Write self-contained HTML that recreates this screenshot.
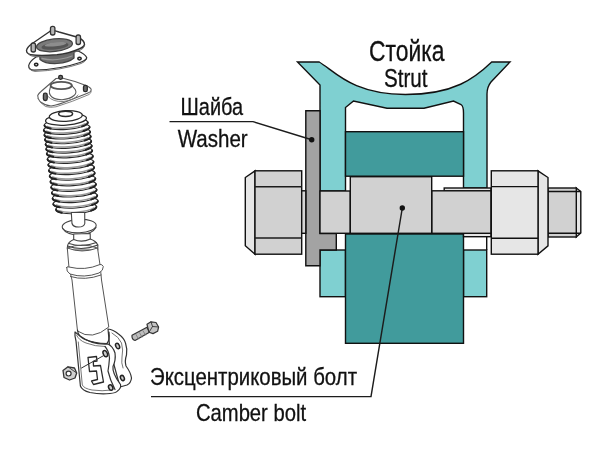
<!DOCTYPE html>
<html lang="ru">
<head>
<meta charset="utf-8">
<title>Стойка — Camber bolt</title>
<style>
html,body{margin:0;padding:0;background:#fff;}
body{width:600px;height:450px;overflow:hidden;font-family:"Liberation Sans",sans-serif;}
svg{display:block;will-change:transform;}
.o{stroke:#111;stroke-width:1.4;stroke-linejoin:miter;}
.lt{fill:#7fd0d1;}
.dt{fill:#419b9c;}
.g1{fill:#d1d1d1;}
.g2{fill:#e6e6e6;}
.g3{fill:#a3a3a3;}
.ld{stroke:#1c1c1c;stroke-width:1.45;fill:none;}
text{font-family:"Liberation Sans",sans-serif;fill:#111;stroke:#111;stroke-width:0.3px;}
</style>
</head>
<body>
<svg width="600" height="450" viewBox="0 0 600 450">
<rect width="600" height="450" fill="#fff"/>

<!-- SKETCH-START -->
<g id="sketch" fill="none" stroke="#333" stroke-width="1.25" stroke-linecap="round" stroke-linejoin="round">
<g id="topmount">
<path fill="#fff" d="M36 57 Q29.500 61.500 28.700 65.500 Q28.500 70 34 70.200 Q60 69.500 80 62.500 Q87 60 86.700 57.500 Q85 54 78 51 Z"/>
<path stroke="#666" stroke-width="0.900" d="M29.500 68 Q31 71.500 35 71.400 Q60 70.500 81 63.500 Q85 62 86.500 59.500"/>
<ellipse cx="36.200" cy="64.600" rx="1.700" ry="1.400" stroke="#222" stroke-width="1.500" fill="#ddd"/>
<ellipse cx="79.500" cy="58.600" rx="1.700" ry="1.400" stroke="#222" stroke-width="1.500" fill="#ddd"/>
<path fill="#6c6c6c" stroke="#444" d="M39.500 53 L40 59.500 Q45 64 57 63.500 Q69 62.500 74 58 L74 50 Z"/>
<path stroke="#999" stroke-width="1.300" d="M42 58.500 Q56 62 72 56"/>
<path fill="#fff" stroke-width="1.400" d="M52 30.500 Q55 30.500 59 32 L78.500 37.500 Q84.500 40.500 84.500 44.500 Q84 47 79 49 Q69 53.500 57 54.800 Q40 56 31 54.800 Q26.500 53.500 26.500 50.500 Q27 47 33 43 L49 32 Q50.500 30.500 52 30.500 Z"/>
<path stroke="#666" stroke-width="0.900" d="M27.500 53 Q29 56 33 56.300 Q45 57 58 56 Q70 54.800 80 50.300 Q84 48.500 84.500 46"/>
<ellipse cx="54.500" cy="45.200" rx="18" ry="6.300" transform="rotate(-6 54.500 45.200)" fill="#7a7a7a" stroke="#444"/>
<ellipse cx="55" cy="46" rx="13.500" ry="3.600" transform="rotate(-6 55 46)" fill="#555" stroke="none"/>
<ellipse cx="55.500" cy="44.300" rx="11" ry="2" transform="rotate(-6 55.500 44.300)" fill="#8d8d8d" stroke="none"/>
<rect x="50.5" y="26.3" width="4.400" height="8.7" rx="2" fill="#b5b5b5" stroke="#333" stroke-width="1.300"/>
<rect x="76.1" y="35" width="4.400" height="9.5" rx="2" fill="#b5b5b5" stroke="#333" stroke-width="1.300"/>
<rect x="31.1" y="43" width="4.400" height="9" rx="2" fill="#b5b5b5" stroke="#333" stroke-width="1.300"/>
</g>
<g id="bearing" stroke="#5a5a5a" stroke-width="1.050">
<path fill="#fff" d="M56 78.500 L62 78 Q75 81 86 85.500 Q91.500 88 91.200 90 Q91 92 88 93 Q78 97 69 100.500 Q58 105 51 106 Q45 105.500 40.500 102 Q37.500 99 37.700 95.500 Q38.500 93.500 41 91.500 Z"/>
<path stroke="#777" stroke-width="0.900" d="M38 98.500 Q39.500 102.500 45.500 106.500 Q50 108 56 106.800 Q72 102 89 94.500 Q91.500 93 91.300 91"/>
<path fill="#fff" d="M49.400 91 L50.800 85.500 L71.800 85.500 L75.300 89.700 Q77 93 74 95.500 Q70 99 62 99.700 Q53 99.500 50.600 95.600 Q49 93.500 49.400 91 Z"/>
<path stroke="#777" stroke-width="0.900" d="M48 96.500 Q53 102 63 101.500 Q74 100.500 78 95"/>
<ellipse cx="61.200" cy="85.500" rx="10.600" ry="3.600" fill="#fff" stroke="#555" stroke-width="1.900"/>
<rect x="58.7" y="75.3" width="3.800" height="4" rx="1.700" fill="#6a6a6a" stroke="#2a2a2a" stroke-width="1.300"/>
<rect x="43.4" y="93.2" width="3.800" height="7.3" rx="1.700" fill="#6a6a6a" stroke="#2a2a2a" stroke-width="1.300"/>
<rect x="83.5" y="85.3" width="3.800" height="6.3" rx="1.700" fill="#6a6a6a" stroke="#2a2a2a" stroke-width="1.300"/>
</g>
<g id="boot">
<g transform="rotate(-4 76.2 208.2)">
<ellipse cx="76.2" cy="208.2" rx="20.5" ry="5.4" fill="#fff" stroke="#2a2a2a" stroke-width="1.150"/>
<path d="M94 209.2 A19.7 5.4 0 0 1 58.5 209.2" stroke="#9a9a9a" stroke-width="1.500"/>
<path d="M56.1 208.3 A20.5 5.4 0 0 0 61.5 211.7" stroke="#222" stroke-width="2"/>
<path d="M96.4 208.3 A20.5 5.4 0 0 1 90.9 211.7" stroke="#222" stroke-width="2"/>
</g>
<g transform="rotate(-4 75.6 202.6)">
<ellipse cx="75.6" cy="202.6" rx="22.6" ry="5.4" fill="#fff" stroke="#2a2a2a" stroke-width="1.150"/>
<path d="M95.2 203.6 A21.8 5.4 0 0 1 56 203.6" stroke="#9a9a9a" stroke-width="1.500"/>
<path d="M53.3 202.7 A22.6 5.4 0 0 0 59.4 206.1" stroke="#222" stroke-width="2"/>
<path d="M97.8 202.7 A22.6 5.4 0 0 1 91.8 206.1" stroke="#222" stroke-width="2"/>
</g>
<g transform="rotate(-4 74.9 197)">
<ellipse cx="74.9" cy="197" rx="22.6" ry="5.4" fill="#fff" stroke="#2a2a2a" stroke-width="1.150"/>
<path d="M94.5 198 A21.8 5.4 0 0 1 55.3 198" stroke="#9a9a9a" stroke-width="1.500"/>
<path d="M52.6 197.1 A22.6 5.4 0 0 0 58.7 200.5" stroke="#222" stroke-width="2"/>
<path d="M97.2 197.1 A22.6 5.4 0 0 1 91.1 200.5" stroke="#222" stroke-width="2"/>
</g>
<g transform="rotate(-4 74.2 191.4)">
<ellipse cx="74.2" cy="191.4" rx="22.7" ry="5.4" fill="#fff" stroke="#2a2a2a" stroke-width="1.150"/>
<path d="M93.9 192.4 A21.9 5.4 0 0 1 54.5 192.4" stroke="#9a9a9a" stroke-width="1.500"/>
<path d="M51.9 191.5 A22.7 5.4 0 0 0 58 194.9" stroke="#222" stroke-width="2"/>
<path d="M96.6 191.5 A22.7 5.4 0 0 1 90.5 194.9" stroke="#222" stroke-width="2"/>
</g>
<g transform="rotate(-4 73.6 185.8)">
<ellipse cx="73.6" cy="185.8" rx="22.7" ry="5.4" fill="#fff" stroke="#2a2a2a" stroke-width="1.150"/>
<path d="M93.3 186.8 A21.9 5.4 0 0 1 53.8 186.8" stroke="#9a9a9a" stroke-width="1.500"/>
<path d="M51.2 185.9 A22.7 5.4 0 0 0 57.2 189.3" stroke="#222" stroke-width="2"/>
<path d="M95.9 185.9 A22.7 5.4 0 0 1 89.9 189.3" stroke="#222" stroke-width="2"/>
</g>
<g transform="rotate(-4 72.9 180.2)">
<ellipse cx="72.9" cy="180.2" rx="22.8" ry="5.4" fill="#fff" stroke="#2a2a2a" stroke-width="1.150"/>
<path d="M92.7 181.2 A22 5.4 0 0 1 53.1 181.2" stroke="#9a9a9a" stroke-width="1.500"/>
<path d="M50.5 180.3 A22.8 5.4 0 0 0 56.5 183.7" stroke="#222" stroke-width="2"/>
<path d="M95.3 180.3 A22.8 5.4 0 0 1 89.2 183.7" stroke="#222" stroke-width="2"/>
</g>
<g transform="rotate(-4 72.2 174.6)">
<ellipse cx="72.2" cy="174.6" rx="22.8" ry="5.4" fill="#fff" stroke="#2a2a2a" stroke-width="1.150"/>
<path d="M92 175.6 A22 5.4 0 0 1 52.4 175.6" stroke="#9a9a9a" stroke-width="1.500"/>
<path d="M49.7 174.7 A22.8 5.4 0 0 0 55.8 178.1" stroke="#222" stroke-width="2"/>
<path d="M94.7 174.7 A22.8 5.4 0 0 1 88.6 178.1" stroke="#222" stroke-width="2"/>
</g>
<g transform="rotate(-4 71.5 169)">
<ellipse cx="71.5" cy="169" rx="22.9" ry="5.4" fill="#fff" stroke="#2a2a2a" stroke-width="1.150"/>
<path d="M91.4 170 A22.1 5.4 0 0 1 51.7 170" stroke="#9a9a9a" stroke-width="1.500"/>
<path d="M49 169.1 A22.9 5.4 0 0 0 55.1 172.5" stroke="#222" stroke-width="2"/>
<path d="M94.1 169.1 A22.9 5.4 0 0 1 88 172.5" stroke="#222" stroke-width="2"/>
</g>
<g transform="rotate(-4 70.9 163.4)">
<ellipse cx="70.9" cy="163.4" rx="22.9" ry="5.4" fill="#fff" stroke="#2a2a2a" stroke-width="1.150"/>
<path d="M90.8 164.4 A22.1 5.4 0 0 1 51 164.4" stroke="#9a9a9a" stroke-width="1.500"/>
<path d="M48.3 163.5 A22.9 5.4 0 0 0 54.4 166.9" stroke="#222" stroke-width="2"/>
<path d="M93.5 163.5 A22.9 5.4 0 0 1 87.3 166.9" stroke="#222" stroke-width="2"/>
</g>
<g transform="rotate(-4 70.2 157.8)">
<ellipse cx="70.2" cy="157.8" rx="23" ry="5.4" fill="#fff" stroke="#2a2a2a" stroke-width="1.150"/>
<path d="M90.2 158.8 A22.2 5.4 0 0 1 50.2 158.8" stroke="#9a9a9a" stroke-width="1.500"/>
<path d="M47.6 157.9 A23 5.4 0 0 0 53.7 161.3" stroke="#222" stroke-width="2"/>
<path d="M92.8 157.9 A23 5.4 0 0 1 86.7 161.3" stroke="#222" stroke-width="2"/>
</g>
<g transform="rotate(-4 69.5 152.2)">
<ellipse cx="69.5" cy="152.2" rx="23" ry="5.4" fill="#fff" stroke="#2a2a2a" stroke-width="1.150"/>
<path d="M89.5 153.2 A22.2 5.4 0 0 1 49.5 153.2" stroke="#9a9a9a" stroke-width="1.500"/>
<path d="M46.8 152.3 A23 5.4 0 0 0 53 155.7" stroke="#222" stroke-width="2"/>
<path d="M92.2 152.3 A23 5.4 0 0 1 86.1 155.7" stroke="#222" stroke-width="2"/>
</g>
<g transform="rotate(-4 69 147.5)">
<ellipse cx="69" cy="147.5" rx="23.1" ry="5.4" fill="#fff" stroke="#2a2a2a" stroke-width="1.150"/>
<path d="M89 148.5 A22.3 5.4 0 0 1 48.9 148.5" stroke="#9a9a9a" stroke-width="1.500"/>
<path d="M46.2 147.6 A23.1 5.4 0 0 0 52.4 151" stroke="#222" stroke-width="2"/>
<path d="M91.7 147.6 A23.1 5.4 0 0 1 85.5 151" stroke="#222" stroke-width="2"/>
</g>
<g transform="rotate(-4 68.4 142.8)">
<ellipse cx="68.4" cy="142.8" rx="23.1" ry="5.4" fill="#fff" stroke="#2a2a2a" stroke-width="1.150"/>
<path d="M88.5 143.8 A22.3 5.4 0 0 1 48.3 143.8" stroke="#9a9a9a" stroke-width="1.500"/>
<path d="M45.6 142.9 A23.1 5.4 0 0 0 51.8 146.3" stroke="#222" stroke-width="2"/>
<path d="M91.2 142.9 A23.1 5.4 0 0 1 85 146.3" stroke="#222" stroke-width="2"/>
</g>
<g transform="rotate(-4 67.8 138.1)">
<ellipse cx="67.8" cy="138.1" rx="23.2" ry="5.4" fill="#fff" stroke="#2a2a2a" stroke-width="1.150"/>
<path d="M88 139.1 A22.4 5.4 0 0 1 47.7 139.1" stroke="#9a9a9a" stroke-width="1.500"/>
<path d="M45 138.2 A23.2 5.4 0 0 0 51.2 141.6" stroke="#222" stroke-width="2"/>
<path d="M90.7 138.2 A23.2 5.4 0 0 1 84.5 141.6" stroke="#222" stroke-width="2"/>
</g>
<g transform="rotate(-4 67.3 133.4)">
<ellipse cx="67.3" cy="133.4" rx="23.2" ry="5.4" fill="#fff" stroke="#2a2a2a" stroke-width="1.150"/>
<path d="M87.4 134.4 A22.4 5.4 0 0 1 47.1 134.4" stroke="#9a9a9a" stroke-width="1.500"/>
<path d="M44.4 133.5 A23.2 5.4 0 0 0 50.6 136.9" stroke="#222" stroke-width="2"/>
<path d="M90.1 133.5 A23.2 5.4 0 0 1 83.9 136.9" stroke="#222" stroke-width="2"/>
</g>
<g transform="rotate(-4 66.7 128.7)">
<ellipse cx="66.7" cy="128.7" rx="23.2" ry="5.4" fill="#fff" stroke="#2a2a2a" stroke-width="1.150"/>
<path d="M86.9 129.7 A22.4 5.4 0 0 1 46.5 129.7" stroke="#9a9a9a" stroke-width="1.500"/>
<path d="M43.8 128.8 A23.2 5.4 0 0 0 50 132.2" stroke="#222" stroke-width="2"/>
<path d="M89.6 128.8 A23.2 5.4 0 0 1 83.4 132.2" stroke="#222" stroke-width="2"/>
</g>
<g transform="rotate(-4 66.1 124)">
<ellipse cx="66.1" cy="124" rx="22" ry="5.4" fill="#fff" stroke="#2a2a2a" stroke-width="1.150"/>
<path d="M85.2 125 A21.2 5.4 0 0 1 47.1 125" stroke="#9a9a9a" stroke-width="1.500"/>
<path d="M44.5 124.1 A22 5.4 0 0 0 50.3 127.5" stroke="#222" stroke-width="2"/>
<path d="M87.8 124.1 A22 5.4 0 0 1 81.9 127.5" stroke="#222" stroke-width="2"/>
</g>
<ellipse cx="66" cy="119.500" rx="20.500" ry="5.600" fill="#fff" stroke="#2a2a2a" stroke-width="1.300" transform="rotate(-4 66 119.500)"/>
<ellipse cx="65.800" cy="116" rx="16.500" ry="5.300" fill="#fff" stroke="#2a2a2a" stroke-width="1.300" transform="rotate(-3 65.800 116)"/>
<ellipse cx="65.600" cy="113.800" rx="7" ry="2.600" fill="#fff" stroke="#2a2a2a" stroke-width="1.500"/>
</g>
<g id="rod" stroke="#444" stroke-width="1.100">
<ellipse cx="79.200" cy="226.100" rx="17" ry="6.700" fill="#fff" transform="rotate(-3 79.200 226.100)"/>
<path d="M62.800 228.500 Q66 234.500 79 235 Q92 234.500 96 227.500"/>
<path fill="#fff" d="M71.300 212.500 L72 223.500 Q73 227 78.500 227 Q84 227 84.800 223.500 L84.700 212.500 Z"/>
<path fill="#fff" d="M73.700 234 L73.700 239.500 Q68 242 67.500 246 L67.500 250 L97.800 250 L97.800 245 Q96 241 90.300 239 L90.200 233.500 Z"/>
<path d="M73.700 239.500 Q82 243 90.300 239"/>
<path d="M67.500 246 Q82 251.500 97.800 245"/>
<path d="M69 243.500 Q82 248 96.500 242.500"/>
</g>
<g id="tube" stroke="#555" stroke-width="1">
<path fill="#fff" d="M67.300 248 L69 268 L72 280 L77.500 331 Q92 341 108.800 327 L101.500 280 L100.200 266 L97.500 248 Q82 254 67.300 248 Z"/>
<path d="M67.300 248 Q82 242 97.500 248"/>
<path fill="#fff" d="M66.700 267.500 Q66 271.500 70 274 Q84 278.500 99 273 Q103.500 270.500 103.300 266.500 Q102 264 100 264.500 Q85 271 69 267 Q67 266 66.700 267.500 Z"/>
<path d="M70.500 276.500 Q85 281 101 275"/>
</g>
<g id="bracket" stroke="#333" stroke-width="1.200">
<path fill="#fff" d="M108 329 Q113 329.500 118.500 334 Q124 338 125.500 343 Q127.500 349 126.500 355 Q124.500 361 126 366 Q131 373 131.500 378 Q131 383 127 385 L120 387 L110 350 Z"/>
<path stroke="#666" stroke-width="0.900" d="M112 333 Q119 337 121.500 343 Q123.500 350 122 357 Q121 363 123 368"/>
<ellipse cx="117.600" cy="346" rx="1.800" ry="2.900" stroke="#222" stroke-width="1.500" fill="#ccc" transform="rotate(-25 117.600 346)"/>
<ellipse cx="122.400" cy="378" rx="1.800" ry="2.700" stroke="#222" stroke-width="1.500" fill="#ccc" transform="rotate(-25 122.400 378)"/>
<path fill="#fff" d="M75 332 Q74.500 336 76 341 L80.400 386 Q82 390.500 90 392.500 Q100 394.500 110 393.500 Q116 393 117.500 391 Q121.500 388 120.500 384.500 Q112 373 113 366.500 Q116 360 115 353 Q113 346.500 108 344 Q92 345 80 336 Z"/>
<path d="M77.500 330 Q78 336 84 339 Q94 343.500 107 343.500 Q110 340 109 332"/>
<path stroke="#666" stroke-width="0.900" d="M76.500 335 Q79 340.500 86 343 Q95 346.500 105 346.500"/>
<path stroke="#666" stroke-width="0.900" d="M78.300 342 L82.300 385 Q84 388.500 92 390 Q102 391.500 112 390"/>
<path d="M105 346.500 Q109 351 109.500 358 Q109 365 108 371 Q110 380 115 389.500"/>
<path stroke="#2a2a2a" stroke-width="1.300" d="M88 357.500 L96.500 356.500 L97 361 L93.300 361.500 L93.500 366 L100.500 365.500 L103.500 382 L93.500 384.500 L91.500 381 L97.500 379.500 L96.500 371 L89.500 371.500 Z"/>
<ellipse cx="105.300" cy="353.600" rx="2" ry="3.300" stroke="#222" stroke-width="1.500" fill="#ccc" transform="rotate(-25 105.300 353.600)"/>
<ellipse cx="110.700" cy="387.500" rx="2" ry="2.900" stroke="#222" stroke-width="1.500" fill="#ccc" transform="rotate(-25 110.700 387.500)"/>
<path stroke-width="1" d="M103.600 355.600 L81.500 368"/>
</g>
<g id="smallbolt" stroke="#333" stroke-width="1.200">
<path fill="#bdbdbd" d="M132 335.300 L147 327.300 L149.500 332.300 L135 340.500 Q131.500 339.500 132 335.300 Z"/>
<path stroke="#777" stroke-width="0.800" d="M136 334.500 L138.500 339 M139.500 332.700 L142 337 M143 330.800 L145.500 335"/>
<path fill="#c4c4c4" d="M147 324.300 L151 321.800 L156 322.500 L158.600 327 L157.600 331.300 L153 333.600 L149 332.300 Z"/>
<path stroke-width="0.900" d="M151 321.800 L152.500 326.500 L149 332.300 M152.500 326.500 L158.600 327"/>
<path fill="#d0d0d0" stroke-width="1.300" d="M63 370.500 L68 366.800 L74.500 368 L76.700 373 L75 378 L69.500 380 L64 377.500 Z"/>
<path stroke-width="0.900" d="M68 366.800 L71 369 L76.700 373"/>
<ellipse cx="68.600" cy="373.600" rx="2.500" ry="2.400" fill="#fff" stroke-width="1.200"/>
</g>
</g>
<!-- SKETCH-END -->

<!-- ===== main section diagram ===== -->
<g id="diagram">
<!-- strut bracket (light teal) -->
<path class="o lt" d="M297.500 62 L319.200 62 C334.700 71.200 352.200 94.500 405.400 94.500 C454.300 94.500 474.900 78 491.700 62 L510 62 L491 82 Q487 87 487 94 L487 188 L463.500 188 L463.500 113 Q463.500 106 461 104.500 L453.500 101 L424 108.300 L387 108.300 L353.500 101 L345.500 107.500 L345.500 191 L320 191 L320 85 Z"/>
<!-- lower walls -->
<rect class="o lt" x="320" y="250" width="25.5" height="46.7"/>
<rect class="o lt" x="463.5" y="250" width="23.2" height="46.7"/>
<path class="o" fill="none" d="M486.700 236.700 V250"/>
<!-- dark teal blocks -->
<rect class="o dt" x="345.5" y="131.7" width="118" height="44.5"/>
<rect class="o dt" x="345.5" y="234" width="118" height="109.3"/>
<!-- washer -->
<path class="o g3" d="M305.800 110.800 L320 110.800 L320 233.500 L336.300 233.500 L336.300 250 L320 250 L320 265.800 L305.800 265.800 Z"/>
<!-- bolt head -->
<path class="o g2" d="M255 170.800 L245.300 177.500 L245.300 245.800 L255 254.200 Z"/>
<rect class="o g1" x="255" y="170.800" width="46.700" height="83.400"/>
<path class="ld o" d="M255 186.700 H301.700 M255 238 H301.700"/>
<rect class="o" fill="#d6d6d6" x="301.700" y="190.800" width="4.100" height="42.500"/>
<!-- shank -->
<rect class="o g1" x="320" y="191" width="30.300" height="42.300"/>
<rect class="o g2" x="444.200" y="188" width="46.800" height="3"/>
<rect class="o g2" x="463.500" y="233.300" width="27.500" height="3.400"/>
<rect class="o g1" x="431.700" y="190.800" width="59.300" height="42.500"/>
<rect class="o g1" x="350.300" y="176.700" width="81.400" height="56.600"/>
<!-- thread end -->
<path class="o g2" d="M576.300 188 L580.800 191.500 L580.800 233 L576.300 237 Z"/>
<rect class="o g1" x="548" y="188" width="28.300" height="49"/>
<path class="o" fill="none" d="M548 191.500 H580.800 M548 233.300 H580.800"/>
<!-- nut -->
<path class="o g2" d="M538 170.800 L548 177.500 L548 245.800 L538 254.200 Z"/>
<rect class="o g2" x="491.300" y="170.800" width="46.700" height="83.400"/>
<path class="o" fill="none" d="M491.300 186.600 H538 M491.300 238.300 H538"/>
</g>

<!-- leaders -->
<path class="ld" d="M169.500 121.600 H253 L311.700 139.700"/>
<circle cx="311.700" cy="139.700" r="2.700" fill="#111"/>
<path class="ld" d="M151 396.600 H371 L402.300 208"/>
<circle cx="402.300" cy="208" r="2.700" fill="#111"/>

<!-- labels -->
<g>
<text x="406.800" y="61.400" font-size="29.300" text-anchor="middle" textLength="75.500" lengthAdjust="spacingAndGlyphs">Стойка</text>
<text x="405.700" y="87" font-size="25" text-anchor="middle" textLength="43.500" lengthAdjust="spacingAndGlyphs">Strut</text>
<text x="211.800" y="114.800" font-size="23.700" text-anchor="middle" textLength="62.500" lengthAdjust="spacingAndGlyphs">Шайба</text>
<text x="212.700" y="147.400" font-size="23.500" text-anchor="middle" textLength="70" lengthAdjust="spacingAndGlyphs">Washer</text>
<text x="253.500" y="385.400" font-size="24" text-anchor="middle" textLength="207" lengthAdjust="spacingAndGlyphs">Эксцентриковый болт</text>
<text x="251" y="420.800" font-size="24" text-anchor="middle" textLength="110" lengthAdjust="spacingAndGlyphs">Camber bolt</text>
</g>
</svg>
</body>
</html>
